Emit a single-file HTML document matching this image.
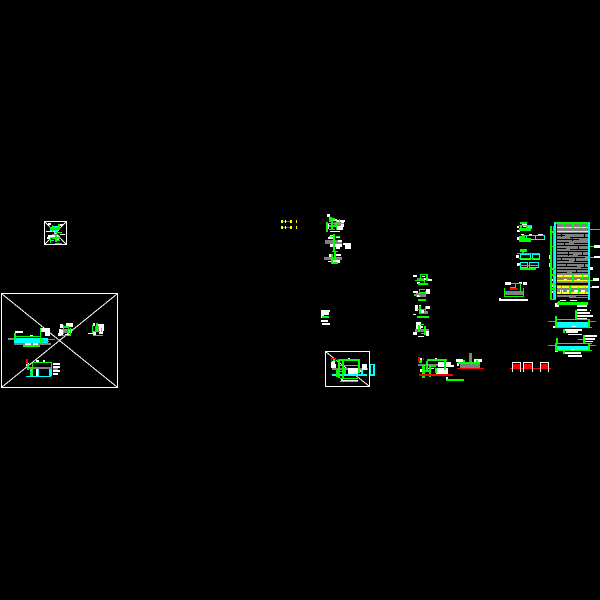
<!DOCTYPE html>
<html><head><meta charset="utf-8"><style>html,body{margin:0;padding:0;background:#000;width:600px;height:600px;overflow:hidden}svg{display:block}</style></head><body>
<svg width="600" height="600" viewBox="0 0 600 600" shape-rendering="crispEdges" xmlns="http://www.w3.org/2000/svg">
<rect width="600" height="600" fill="#000"/>
<g fill="none" stroke="#fff" stroke-width="1">
<rect x="1.5" y="293.5" width="116" height="94"/><path d="M2 294L117 387M2 387L117 294"/>
<rect x="44.5" y="221.5" width="22" height="23"/><path d="M45 222L66 244M45 244L66 222"/>
<rect x="325.5" y="351.5" width="44" height="35"/><path d="M326 352L369 386"/>
</g>
<!-- grey -->
<path fill="#808080" d="M8 338h6v2H8zM14 343h37v2H14zM48 339h7v1h-7zM63 329h7v4h-7zM95 326h7v5h-7zM28 367h24v2H28zM53 368h5v2h-5zM50 229h8v2h-8zM52 234h6v2h-6zM332 368h36v2h-36zM334 222h8v4h-8zM325 240h17v4h-17zM324 257h18v3h-18zM417 278h12v2h-12zM416 293h10v4h-10zM420 311h8v3h-8zM415 329h14v3h-14zM418 364h24v2h-24zM469 353h3v9h-3zM460 364h20v4h-20zM505 291h18v4h-18zM557 224h31v74h-31zM548 321h7v1h-7zM590 321h6v1h-6zM548 345h7v1h-7zM590 345h6v1h-6z"/>
<!-- panel mortar -->
<path fill="#000" d="M557 233h31v1h-31zM557 235h8v1h-8zM570 237h18v1h-18zM557 239h22v1h-22zM557 242h12v1h-12zM574 243h14v1h-14zM557 245h31v1h-31zM557 248h9v1h-9zM570 249h18v1h-18zM557 251h31v1h-31zM557 254h16v1h-16zM578 255h10v1h-10zM557 257h31v1h-31zM557 260h12v1h-12zM574 261h14v1h-14zM557 263h31v1h-31zM557 266h20v1h-20zM581 267h7v1h-7zM557 269h31v1h-31zM557 272h10v1h-10zM572 272h16v1h-16zM557 283h31v2h-31zM557 294h31v1h-31zM557 297h12v1h-12zM576 296h12v1h-12zM561 234h1v3h-1zM572 238h1v3h-1zM584 234h1v4h-1zM564 243h1v3h-1zM578 246h1v3h-1zM568 252h1v4h-1zM582 251h1v4h-1zM561 258h1v3h-1zM575 258h1v3h-1zM584 264h1v3h-1zM566 264h1v3h-1zM576 269h1v3h-1z"/>
<!-- yellow -->
<path fill="#ffff00" d="M557 227h31v1h-31zM557 231h31v1h-31zM557 275h31v2h-31zM557 280h31v2h-31zM557 286h31v2h-31zM557 292h31v2h-31zM281 220h2v3h-2zM290 220h2v3h-2zM296 220h1v3h-1zM281 226h2v3h-2zM290 226h2v3h-2zM296 226h1v3h-1z"/>
<path fill="#ff00ff" d="M283 221h7v1h-7zM283 227h7v1h-7z"/>
<path fill="#fff" d="M285 220h1v3h-1zM285 226h1v3h-1z"/>
<!-- cyan -->
<path fill="#00ffff" d="M14 338h34v5H14zM26 376h25v1H26zM30 369h3v7h-3zM49 369h3v7h-3zM38 369h1v7h-1zM52 226h6v2h-6zM50 230h8v2h-8zM50 240h4v1h-4zM332 374h35v2h-35zM370 364h1v11h-1zM373 364h2v11h-2zM370 374h5v2h-5zM371 364h3v1h-3zM353 370h1v5h-1zM361 370h2v5h-2zM441 370h2v5h-2zM554 222h2v78h-2zM588 222h2v78h-2zM526 235h19v1h-19zM526 239h19v1h-19zM526 235h1v5h-1zM535 235h1v5h-1zM544 235h1v5h-1zM520 254h11v1h-11zM520 259h11v1h-11zM520 254h1v5h-1zM530 254h1v5h-1zM532 254h8v1h-8zM532 259h8v1h-8zM532 254h1v5h-1zM539 254h1v5h-1zM520 262h8v1h-8zM520 267h8v1h-8zM520 262h1v6h-1zM527 262h1v6h-1zM529 262h10v1h-10zM529 267h10v1h-10zM529 262h1v6h-1zM538 262h1v6h-1zM528 225h4v4h-4zM555 322h35v5h-35zM555 346h35v4h-35z"/>
<!-- white -->
<path fill="#fff" d="M15 331h8v2h-8zM30 335h3v1h-3zM41 328h9v4h-9zM45 332h5v4h-5zM25 343h6v2h-6zM33 343h5v2h-5zM60 324h3v4h-3zM66 323h7v4h-7zM59 329h4v6h-4zM68 329h4v4h-4zM58 333h3v3h-3zM65 334h5v2h-5zM93 323h2v3h-2zM99 324h5v7h-5zM96 324h4v2h-4zM88 333h5v1h-5zM93 331h3v5h-3zM99 331h4v3h-4zM53 363h7v2h-7zM53 366h7v2h-7zM53 370h7v2h-7zM53 373h5v2h-5zM36 360h3v2h-3zM43 360h2v2h-2zM36 369h2v7h-2zM26 363h3v3h-3zM48 223h3v2h-3zM58 224h5v2h-5zM46 231h9v1h-9zM48 235h10v2h-10zM60 234h5v1h-5zM52 238h3v1h-3zM56 239h3v2h-3zM47 237h3v2h-3zM327 214h3v3h-3zM326 224h3v5h-3zM337 220h8v2h-8zM337 226h6v4h-6zM341 222h3v5h-3zM333 219h4v2h-4zM330 231h10v1h-10zM330 235h4v4h-4zM328 237h4v2h-4zM336 236h4v2h-4zM330 244h12v3h-12zM338 240h4v2h-4zM336 247h4v2h-4zM345 243h6v6h-6zM343 243h3v2h-3zM329 254h3v3h-3zM336 254h5v2h-5zM333 260h7v3h-7zM328 261h3v1h-3zM321 310h8v5h-8zM326 310h4v2h-4zM321 315h3v3h-3zM321 320h7v2h-7zM322 323h8v2h-8zM331 361h4v3h-4zM331 364h5v4h-5zM348 358h2v2h-2zM362 364h5v6h-5zM348 368h10v6h-10zM343 380h15v1h-15zM341 379h2v3h-2zM359 370h2v2h-2zM413 275h4v2h-4zM422 276h3v1h-3zM428 279h4v2h-4zM417 282h3v2h-3zM424 278h2v2h-2zM413 291h5v2h-5zM426 289h4v5h-4zM417 295h3v2h-3zM415 305h3v6h-3zM419 305h2v2h-2zM426 306h4v3h-4zM413 314h3v1h-3zM421 310h3v3h-3zM416 322h5v7h-5zM420 326h3v2h-3zM413 332h4v3h-4zM426 331h3v5h-3zM418 336h6v1h-6zM420 358h2v5h-2zM435 358h2v2h-2zM438 362h13v3h-13zM438 365h16v2h-16zM436 368h12v6h-12zM420 369h3v3h-3zM428 368h6v1h-6zM421 375h3v1h-3zM446 377h2v3h-2zM456 359h7v3h-7zM474 359h8v3h-8zM457 363h2v3h-2zM505 282h6v3h-6zM519 282h3v2h-3zM523 282h4v3h-4zM499 299h29v2h-29zM499 298h2v3h-2zM517 226h2v2h-2zM522 224h5v1h-5zM523 226h4v1h-4zM517 230h3v2h-3zM517 237h3v3h-3zM521 234h3v1h-3zM529 234h3v1h-3zM538 234h5v1h-5zM516 255h3v3h-3zM517 263h3v3h-3zM594 245h6v3h-6zM594 256h6v2h-6zM593 278h6v3h-6zM592 286h7v2h-7zM549 255h2v4h-2zM549 263h2v4h-2zM550 232h2v2h-2zM551 279h2v2h-2zM551 285h2v2h-2zM551 291h2v2h-2zM590 267h3v3h-3zM558 223h3v1h-3zM566 223h4v1h-4zM575 223h4v1h-4zM583 223h3v1h-3zM560 290h3v2h-3zM567 290h4v2h-4zM574 290h5v2h-5zM581 290h4v2h-4zM564 279h3v1h-3zM577 279h3v1h-3zM555 303h4v4h-4zM560 300h6v1h-6zM570 300h7v1h-7zM577 305h10v2h-10zM577 309h10v2h-10zM577 312h13v2h-13zM577 315h16v2h-16zM577 318h10v1h-10zM590 310h1v1h-1zM553 326h3v2h-3zM572 326h4v1h-4zM565 329h17v2h-17zM566 331h12v2h-12zM568 334h14v1h-14zM585 335h12v2h-12zM585 338h10v2h-10zM585 341h8v1h-8zM555 350h3v2h-3zM571 349h4v2h-4zM565 352h16v2h-16zM568 355h14v2h-14z"/>
<!-- green -->
<path fill="#00ff00" d="M14 333h2v7h-2zM40 328h1v16h-1zM14 336h27v1H14zM23 345h17v2H23zM42 339h2v2h-2zM41 341h8v1h-8zM61 335h10v1H61zM63 325h1v9h-1zM68 326h1v7h-1zM61 329h10v1H61zM64 326h4v2h-4zM70 328h1v7h-1zM92 325h1v8h-1zM96 323h2v8h-2zM92 331h8v1h-8zM101 328h1v4h-1zM93 335h10v1H93zM33 362h19v1H33zM32 363h1v12h-1zM51 363h1v6h-1zM27 364h2v6h-2zM29 367h3v1h-3zM30 371h2v5h-2zM52 225h1v7h-1zM50 227h9v2h-9zM58 224h2v6h-2zM55 232h7v1h-7zM50 237h1v6h-1zM52 237h8v2h-8zM55 235h2v7h-2zM57 240h3v1h-3zM55 243h7v1h-7zM329 217h3v5h-3zM326 222h2v10h-2zM331 220h2v10h-2zM336 221h1v9h-1zM327 223h17v1h-17zM329 225h8v2h-8zM329 229h6v1h-6zM339 219h1v7h-1zM332 218h3v2h-3zM333 234h2v17h-2zM329 236h4v1h-4zM336 236h4v1h-4zM332 251h6v1h-6zM331 254h2v9h-2zM334 252h2v8h-2zM336 257h4v1h-4zM331 262h7v2h-7zM322 316h7v2h-7zM333 358h3v3h-3zM338 359h22v2h-22zM338 361h2v17h-2zM342 361h2v17h-2zM358 361h2v12h-2zM338 365h20v1h-20zM344 368h2v6h-2zM340 378h18v1h-18zM340 381h18v1h-18zM336 370h2v7h-2zM340 371h3v1h-3zM420 274h8v1h-8zM420 275h1v5h-1zM426 275h2v6h-2zM415 280h10v1h-10zM418 283h10v2h-10zM424 281h1v3h-1zM419 289h6v1h-6zM414 294h2v2h-2zM419 290h1v6h-1zM425 291h1v6h-1zM419 292h7v1h-7zM418 299h8v2h-8zM419 306h2v8h-2zM425 306h1v7h-1zM417 309h9v1h-9zM417 316h12v2h-12zM420 324h4v1h-4zM418 325h2v7h-2zM424 326h2v9h-2zM421 329h6v1h-6zM421 333h5v1h-5zM419 360h3v3h-3zM427 359h20v2h-20zM426 361h2v10h-2zM444 361h2v9h-2zM430 366h6v1h-6zM422 365h3v13h-3zM429 365h2v12h-2zM422 370h9v2h-9zM435 368h2v5h-2zM446 379h18v2h-18zM458 362h22v2h-22zM463 360h2v4h-2zM471 361h1v4h-1zM476 360h2v5h-2zM520 283h1v8h-1zM511 283h9v1h-9zM515 284h1v4h-1zM510 287h5v1h-5zM504 288h1v9h-1zM523 288h1v9h-1zM504 296h20v1h-20zM520 222h7v2h-7zM519 225h13v1h-13zM520 226h2v3h-2zM526 226h2v3h-2zM519 228h12v3h-12zM519 236h6v2h-6zM519 238h12v4h-12zM522 235h6v1h-6zM520 249h7v3h-7zM517 253h23v1h-23zM522 252h2v2h-2zM519 258h21v1h-21zM519 265h20v1h-20zM520 268h16v2h-16zM550 226h2v74h-2zM553 226h1v74h-1zM550 299h6v1h-6zM556 222h32v2h-32zM564 222h1v5h-1zM572 222h2v6h-2zM580 222h1v6h-1zM586 222h1v6h-1zM552 231h3v2h-3zM552 246h3v1h-3zM552 268h4v2h-4zM552 274h4v2h-4zM552 283h4v2h-4zM552 288h4v2h-4zM588 229h12v1h-12zM590 246h4v1h-4zM585 257h9v1h-9zM590 280h3v1h-3zM590 287h2v1h-2zM557 281h31v1h-31zM563 273h1v7h-1zM572 274h2v7h-2zM582 273h1v7h-1zM588 275h1v5h-1zM561 286h1v8h-1zM569 286h2v8h-2zM578 287h1v7h-1zM585 287h1v7h-1zM557 302h31v3h-31zM558 301h2v1h-2zM575 310h2v10h-2zM557 319h33v1h-33zM555 316h2v12h-2zM588 320h2v8h-2zM555 327h37v1h-37zM563 329h2v4h-2zM583 335h2v8h-2zM555 343h37v1h-37zM556 338h2v6h-2zM588 344h2v6h-2zM555 344h2v6h-2zM555 350h37v1h-37zM563 351h2v3h-2zM578 339h5v1h-5z"/>
<!-- red -->
<path fill="#ff0000" d="M26 359h2v5h-2zM331 358h4v1h-4zM335 358h1v4h-1zM331 359h1v3h-1zM418 357h2v5h-2zM423 358h1v2h-1zM419 374h34v2h-34zM457 368h27v1h-27zM510 368h41v1h-41zM512 364h8v4h-8zM523 364h9v4h-9zM540 364h8v4h-8zM510 288h8v2h-8z"/>
<path fill="#fff" d="M512 362h1v10h-1zM512 362h8v1h-8zM520 362h1v10h-1zM523 362h1v10h-1zM523 362h9v1h-9zM532 362h1v10h-1zM540 362h1v10h-1zM540 362h8v1h-8zM548 362h1v10h-1z"/>
</svg>
</body></html>
